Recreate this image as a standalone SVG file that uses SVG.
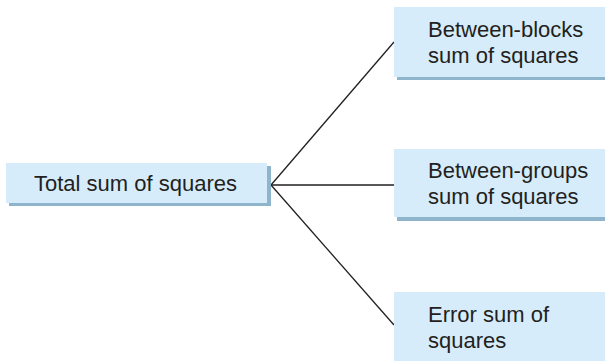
<svg xmlns="http://www.w3.org/2000/svg" width="605" height="361" viewBox="0 0 605 361">
<style>
.box{fill:#d6ecfb}
.sh{fill:#8fb5cd}
.t{font-family:"Liberation Sans",Arial,sans-serif;font-size:22px;fill:#231f20}
.c{stroke:#231f20;stroke-width:1.3;fill:none}
</style>
<rect width="605" height="361" fill="#ffffff"/>
<g id="connectors">
<line class="c" x1="271" y1="185" x2="394" y2="42"/>
<line class="c" x1="271" y1="185" x2="394" y2="185"/>
<line class="c" x1="271" y1="185" x2="394" y2="325"/>
</g>
<g id="total">
<rect class="sh" x="9" y="166" width="262" height="40"/>
<rect class="box" x="6" y="163" width="261" height="40"/>
<text class="t" x="34" y="191">Total sum of squares</text>
</g>
<g id="between-blocks">
<rect class="sh" x="397" y="10" width="208" height="70"/>
<rect class="box" x="394" y="7" width="211" height="70"/>
<text class="t" x="428" y="37">Between-blocks</text>
<text class="t" x="428" y="63">sum of squares</text>
</g>
<g id="between-groups">
<rect class="sh" x="397" y="152" width="208" height="69"/>
<rect class="box" x="394" y="149" width="211" height="68"/>
<text class="t" x="428" y="178">Between-groups</text>
<text class="t" x="428" y="204">sum of squares</text>
</g>
<g id="error">
<rect class="box" x="394" y="292" width="211" height="69"/>
<text class="t" x="428" y="322">Error sum of</text>
<text class="t" x="428" y="348">squares</text>
</g>
</svg>
